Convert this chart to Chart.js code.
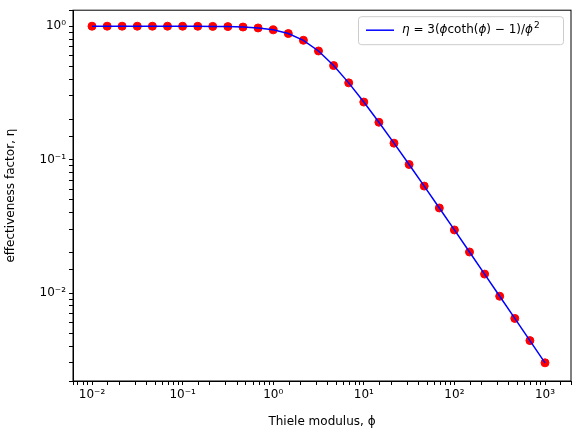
<!DOCTYPE html>
<html><head><meta charset="utf-8">
<script src="https://cdn.jsdelivr.net/npm/chart.js@4"></script>
<style>body{margin:0;background:#fff}#w{width:578px;height:435px}</style>
</head><body><div id="w"><canvas id="c"></canvas></div>
<script>
const phi=[0.01,0.0147,0.0215,0.0316,0.0464,0.0681,0.1,0.147,0.215,0.316,0.464,0.681,1,1.468,2.154,3.162,4.642,6.813,10,14.68,21.54,31.62,46.42,68.13,100,146.8,215.4,316.2,464.2,681.3,1000];
const eta=[1,1,1,0.9999,0.9999,0.9997,0.9993,0.9986,0.9969,0.9934,0.9859,0.970,0.939,0.881,0.784,0.652,0.507,0.376,0.27,0.1905,0.1328,0.0919,0.0633,0.0434,0.0297,0.0203,0.01386,0.009457,0.00645,0.004397,0.002997];
const sup={'-':'⁻','0':'⁰','1':'¹','2':'²','3':'³'};
const majors=[1e-3,1e-2,1e-1,1,10,100,1000];
function lab(v){for(const m of majors){if(Math.abs(v/m-1)<1e-6){const e=Math.round(Math.log10(m));return '10'+String(e).split('').map(c=>sup[c]).join('');}}return '';}
const pts=phi.map((x,i)=>({x,y:eta[i]}));
const F='DejaVu Sans';
const legendPlug={id:'lg',afterDraw(ch){const c=ch.ctx,a=ch.chartArea;c.save();
const w=205,h=28,x=a.right-w-8,y=a.top+6;
c.fillStyle='rgba(255,255,255,0.8)';c.strokeStyle='#ccc';c.lineWidth=1;
c.beginPath();c.roundRect(x+.5,y+.5,w,h,3);c.fill();c.stroke();
c.strokeStyle='blue';c.lineWidth=1.5;c.beginPath();c.moveTo(x+8,y+14);c.lineTo(x+36,y+14);c.stroke();
c.fillStyle='#000';c.textBaseline='middle';let tx=x+44;
const parts=[['italic 12px '+F,'η'],['12px '+F,' = 3('],['italic 12px '+F,'ϕ'],['12px '+F,'coth('],['italic 12px '+F,'ϕ'],['12px '+F,') − 1)/'],['italic 12px '+F,'ϕ']];
for(const[f,t]of parts){c.font=f;c.fillText(t,tx,y+14);tx+=c.measureText(t).width;}
c.font='9px '+F;c.fillText('2',tx+1,y+9);c.restore();}};
new Chart(document.getElementById('c'),{type:'scatter',
data:{datasets:[
{type:'line',data:pts,borderColor:'blue',borderWidth:1.5,pointRadius:0,fill:false},
{data:pts,backgroundColor:'red',borderColor:'red',pointRadius:4}]},
options:{animation:false,responsive:true,maintainAspectRatio:false,
layout:{padding:{top:10,right:7,left:4,bottom:6}},
plugins:{legend:{display:false},tooltip:{enabled:false}},
scales:{
x:{type:'logarithmic',min:0.00617,max:1936,afterFit(s){s.height=48;},
grid:{drawOnChartArea:false,tickLength:4,color:'#000'},border:{color:'#000'},
ticks:{autoSkip:false,maxRotation:0,padding:3,color:'#000',font:{family:F,size:12},callback:v=>lab(v)},
title:{display:true,text:'Thiele modulus, ϕ',padding:{top:2,bottom:0},color:'#000',font:{family:F,size:12}}},
y:{type:'logarithmic',min:0.00219,max:1.318,afterFit(s){s.width=69;},
grid:{drawOnChartArea:false,tickLength:4,color:'#000'},border:{color:'#000'},
ticks:{autoSkip:false,color:'#000',font:{family:F,size:12},callback:v=>lab(v)},
title:{display:true,text:'effectiveness factor, η',padding:{top:0,bottom:4},color:'#000',font:{family:F,size:12}}}}},
plugins:[legendPlug,{id:'frame',afterDraw(ch){const c=ch.ctx,a=ch.chartArea;c.save();c.strokeStyle='#000';c.lineWidth=1;c.strokeRect(a.left,a.top,a.right-a.left,a.bottom-a.top);c.restore();}}]});
</script></body></html>
